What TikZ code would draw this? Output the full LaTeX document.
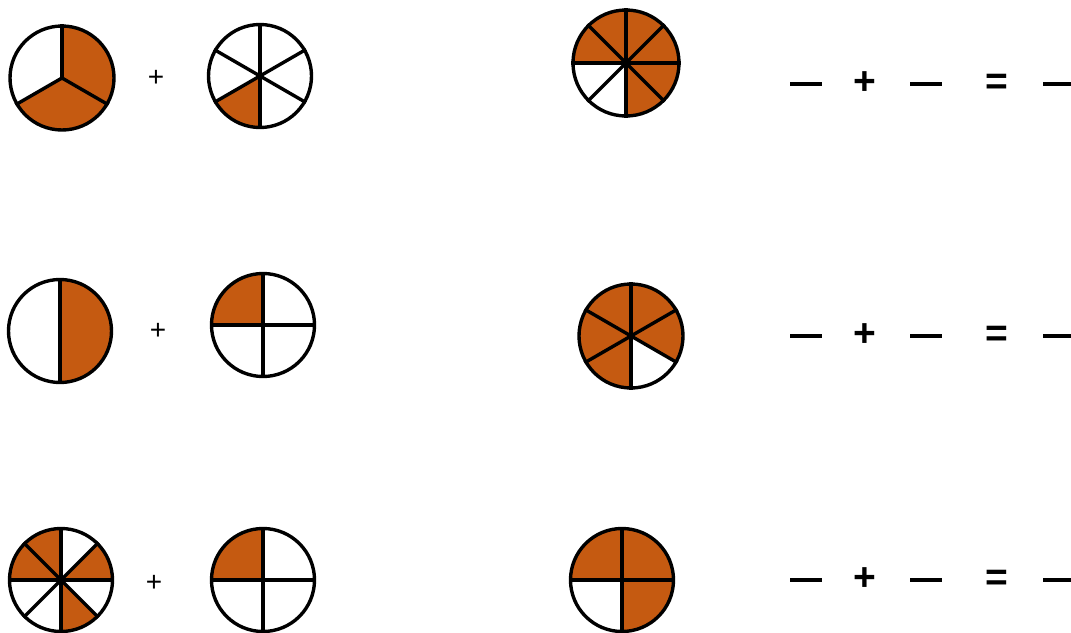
\documentclass[tikz,border=0pt]{standalone}
\usepackage{fontspec}
\setmainfont{Liberation Sans}
\usetikzlibrary{positioning}
\definecolor{slicebg}{HTML}{C55A11}
\pgfdeclarelayer{slices}
\pgfsetlayers{slices,main}

\begin{document}
\begin{tikzpicture}[
    x=1pt, y=1pt,
    % circle outline of each pie
    pie/.style={
        circle,
        draw=black,
        line width=3.4pt,
        inner sep=0pt,
        minimum size=103pt
    },
    % coloured part
    slice/.style={
        fill=slicebg
    },
    % radii inside a pie
    spoke/.style={
        draw=black,
        line width=3.4pt
    },
    % small plus between two pies
    plussign/.style={
        inner sep=0pt,
        font=\fontsize{28}{28}\selectfont
    },
    % signs of the blank sum
    sumsign/.style={
        inner sep=0pt,
        font=\fontsize{39}{39}\selectfont\bfseries
    },
    % blanks to fill in
    blank/.style={
        draw=black,
        line width=4pt
    }
]
    \useasboundingbox (0,0) rectangle (1071,-632);

    % --- 1. pies ---
    \node[pie, minimum size=104pt] (pieA) at (62,-78) {};
    \node[pie] (pieB) at (260,-76) {};
    \node[pie, minimum size=106pt] (pieC) at (626,-63) {};

    \node[pie] (pieD) at (60,-331) {};
    \node[pie] (pieE) at (263,-325) {};
    \node[pie, minimum size=104pt] (pieF) at (631,-336) {};

    \node[pie] (pieG) at (61,-580) {};
    \node[pie] (pieH) at (263,-580) {};
    \node[pie] (pieI) at (622,-580) {};

    % --- 2. coloured slices ---
    \begin{pgfonlayer}{slices}
        \fill[slice] (pieA.center) -- ++(-150:52) arc[start angle=-150, end angle=90, radius=52] -- cycle;
        \fill[slice] (pieB.center) -- ++(210:51.5) arc[start angle=210, end angle=270, radius=51.5] -- cycle;
        \fill[slice] (pieC.center) -- ++(-90:53) arc[start angle=-90, end angle=180, radius=53] -- cycle;

        \fill[slice] (pieD.center) -- ++(-90:51.5) arc[start angle=-90, end angle=90, radius=51.5] -- cycle;
        \fill[slice] (pieE.center) -- ++(90:51.5) arc[start angle=90, end angle=180, radius=51.5] -- cycle;
        \fill[slice] (pieF.center) -- ++(-30:52) arc[start angle=-30, end angle=270, radius=52] -- cycle;

        \fill[slice] (pieG.center) -- ++(0:51.5) arc[start angle=0, end angle=45, radius=51.5] -- cycle;
        \fill[slice] (pieG.center) -- ++(90:51.5) arc[start angle=90, end angle=180, radius=51.5] -- cycle;
        \fill[slice] (pieG.center) -- ++(270:51.5) arc[start angle=270, end angle=315, radius=51.5] -- cycle;
        \fill[slice] (pieH.center) -- ++(90:51.5) arc[start angle=90, end angle=180, radius=51.5] -- cycle;
        \fill[slice] (pieI.center) -- ++(-90:51.5) arc[start angle=-90, end angle=180, radius=51.5] -- cycle;
    \end{pgfonlayer}

    % --- 3. spokes ---
    \foreach \a in {90,210,330} \draw[spoke] (pieA.center) -- (pieA.\a);
    \foreach \a in {30,90,...,330} \draw[spoke] (pieB.center) -- (pieB.\a);
    \foreach \a in {0,45,...,315} \draw[spoke] (pieC.center) -- (pieC.\a);

    \foreach \a in {90,270} \draw[spoke] (pieD.center) -- (pieD.\a);
    \foreach \a in {0,90,180,270} \draw[spoke] (pieE.center) -- (pieE.\a);
    \foreach \a in {30,90,...,330} \draw[spoke] (pieF.center) -- (pieF.\a);

    \foreach \a in {0,45,...,315} \draw[spoke] (pieG.center) -- (pieG.\a);
    \foreach \a in {0,90,180,270} \draw[spoke] (pieH.center) -- (pieH.\a);
    \foreach \a in {0,90,180,270} \draw[spoke] (pieI.center) -- (pieI.\a);

    % --- 4. plus signs between the pies ---
    \node[plussign] (plusA) at (156,-78) {+};
    \node[plussign] (plusD) at (158,-331) {+};
    \node[plussign] (plusG) at (154,-583) {+};

    % --- 5. blank sums ---
    \foreach \row/\y in {1/84, 2/336, 3/580} {
        \coordinate (b\row a) at (790,-\y);
        \coordinate (b\row b) at (822,-\y);
        \coordinate (b\row c) at (910,-\y);
        \coordinate (b\row d) at (942,-\y);
        \coordinate (b\row e) at (1043,-\y);
        \coordinate (b\row f) at (1071,-\y);
        \draw[blank] (b\row a) -- (b\row b);
        \draw[blank] (b\row c) -- (b\row d);
        \draw[blank] (b\row e) -- (b\row f);
        \node[sumsign] (plus\row) at (865,-\y+1) {+};
        \node[sumsign] (eq\row) at (997,-\y) {=};
    }

\end{tikzpicture}
\end{document}
